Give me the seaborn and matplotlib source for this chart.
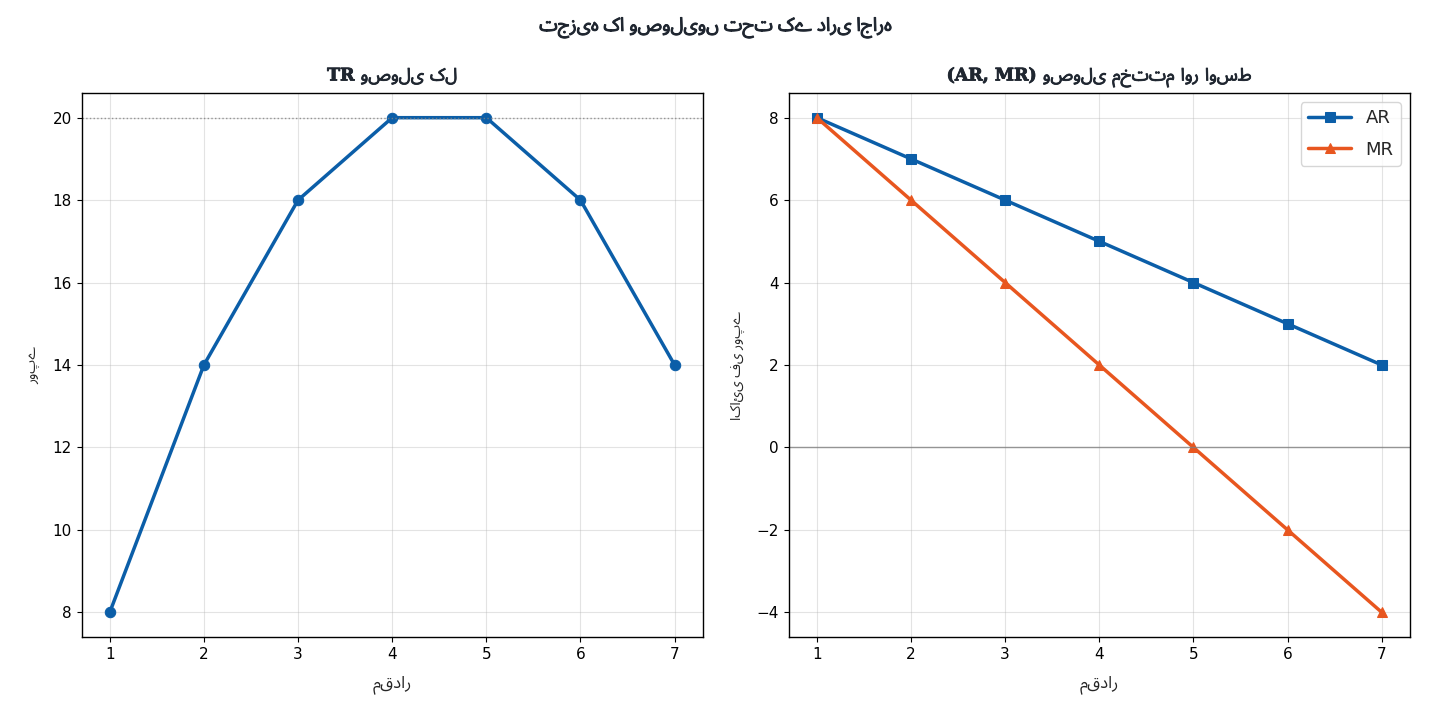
import matplotlib
matplotlib.use("Agg")
import seaborn as sns
import matplotlib.pyplot as plt
import matplotlib.patheffects as pe
import pandas as pd

# data
quantity = [1, 2, 3, 4, 5, 6, 7]
total_revenue = [8, 14, 18, 20, 20, 18, 14]
average_revenue = [8, 7, 6, 5, 4, 3, 2]
marginal_revenue = [8, 6, 4, 2, 0, -2, -4]

suptitle_text = "اجارہ داری کے تحت وصولیوں کا تجزیہ"
left_title = "کل وصولی TR"
right_title = "اوسط اور مختتم وصولی (AR, MR)"
left_ylabel = "روپے"
right_ylabel = "روپے فی اکائی"
xlabel_text = "مقدار"

blue = "#0b5ea8"
orange = "#e8561f"
title_color = "#1f2630"


def is_arabic(tok):
    return any("\u0600" <= c <= "\u06ff" for c in tok)


# the renderer shapes each word but lays words out left to right,
# so put the words in visual (right-to-left) order here
def rtl(text):
    units = []
    for tok in text.split(" "):
        if units and not is_arabic(tok) and not is_arabic(units[-1]):
            units[-1] += " " + tok
        else:
            units.append(tok)
    return " ".join(reversed(units))


sns.set_style("ticks")
plt.rcParams["font.family"] = ["DejaVu Sans"]
plt.rcParams["axes.edgecolor"] = "black"
plt.rcParams["xtick.color"] = "black"
plt.rcParams["ytick.color"] = "black"
plt.rcParams["axes.linewidth"] = 1.0

label_fonts = ["Noto Sans Arabic", "DejaVu Sans"]
title_fonts = ["DejaVu Serif", "Noto Sans Arabic"]
embolden = [pe.withStroke(linewidth=0.6, foreground=title_color)]

df = pd.DataFrame({"Q": quantity, "TR": total_revenue,
                   "AR": average_revenue, "MR": marginal_revenue})

fig, (ax1, ax2) = plt.subplots(1, 2, figsize=(14.3, 7.15), dpi=100)
fig.subplots_adjust(left=0.057, right=0.986, bottom=0.109, top=0.870, wspace=0.138)

# left: total revenue
sns.lineplot(data=df, x="Q", y="TR", ax=ax1, color=blue, linewidth=2.5,
             marker="o", markersize=7.5, markeredgecolor=blue)
ax1.axhline(max(total_revenue), color="grey", linestyle=":", linewidth=1, alpha=0.8)
ax1.set_title(rtl(left_title), family=title_fonts, fontsize=12.5, fontweight="bold",
              color=title_color, path_effects=embolden, pad=9)
ax1.set_ylabel(rtl(left_ylabel), family=label_fonts, fontsize=10, labelpad=9)
ax1.set_xlabel(rtl(xlabel_text), family=label_fonts, fontsize=12, labelpad=10)

# right: average and marginal revenue
sns.lineplot(data=df, x="Q", y="AR", ax=ax2, color=blue, linewidth=2.5,
             marker="s", markersize=7.5, markeredgecolor=blue, label="AR")
sns.lineplot(data=df, x="Q", y="MR", ax=ax2, color=orange, linewidth=2.5,
             marker="^", markersize=7.5, markeredgecolor=orange, label="MR")
ax2.axhline(0, color="grey", linewidth=1, alpha=0.8)
ax2.set_title(rtl(right_title), family=title_fonts, fontsize=12.5, fontweight="bold",
              color=title_color, path_effects=embolden, pad=9)
ax2.set_ylabel(rtl(right_ylabel), family=label_fonts, fontsize=10, labelpad=8)
ax2.set_xlabel(rtl(xlabel_text), family=label_fonts, fontsize=12, labelpad=10)
ax2.legend(loc="upper right", fontsize=13, frameon=True, handlelength=2.4,
           labelspacing=0.75)

for ax in (ax1, ax2):
    ax.grid(True, color="#b0b0b0", alpha=0.35)
    ax.set_xticks(quantity)
    ax.tick_params(labelsize=11)

fig.suptitle(rtl(suptitle_text), family=label_fonts, fontsize=13.5,
             fontweight="bold", color=title_color, y=0.976,
             path_effects=[pe.withStroke(linewidth=0.7, foreground=title_color)])

fig.savefig("out.png", dpi=100)
